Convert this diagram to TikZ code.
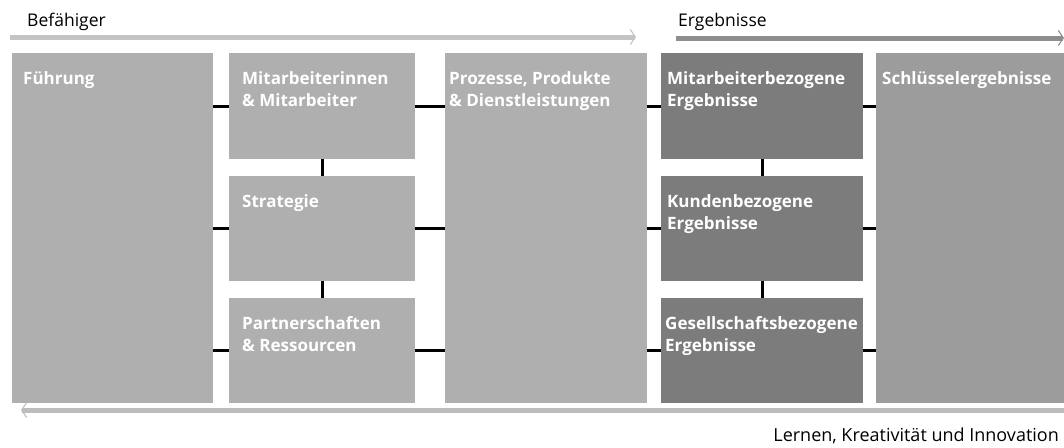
\documentclass[tikz,border=0pt]{standalone}
\usepackage{fontspec}
\setmainfont{Open Sans}
\usetikzlibrary{arrows.meta}
\definecolor{enabler}{HTML}{AFAFAF}
\definecolor{result}{HTML}{7C7C7C}
\definecolor{keyres}{HTML}{9C9C9C}
\definecolor{arrowL}{HTML}{C4C4C4}
\definecolor{arrowR}{HTML}{8E8E8E}
\definecolor{arrowB}{HTML}{BDBDBD}
\tikzset{
  box/.style={draw=none, rectangle, anchor=north west, inner sep=0pt, minimum width=#1},
  boxtxt/.style={anchor=north west, text=white, font=\bfseries\fontsize{17}{22}\selectfont, align=left, inner sep=0pt, xshift=#1, yshift=-18pt},
  conn/.style={draw=black, line width=2.6pt},
  band/.style={line width=5pt, -{Straight Barb[length=5pt, width=15pt, line width=1.1pt]}},
  captxt/.style={font=\fontsize{17.5}{20}\selectfont, inner sep=0pt}
}
\begin{document}
\begin{tikzpicture}[x=1pt, y=-1pt]
\useasboundingbox (0,0) rectangle (1064,447);
% captions
\node[captxt, anchor=base west] (bef) at (27,26) {Befähiger};
\node[captxt, anchor=base west] (erg) at (678,26) {Ergebnisse};
\node[captxt, anchor=base east, font=\fontsize{18}{20}\selectfont] (lki) at (1059,441) {Lernen, Kreativität und Innovation};
% arrow end points
\coordinate (a1s) at (10,37);
\coordinate (a1e) at (636,37);
\coordinate (a2s) at (676,38);
\coordinate (a2e) at (1064,38);
\coordinate (a3s) at (1064,410);
\coordinate (a3e) at (21,410);
\draw[band, arrowL] (a1s) -- (a1e);
\draw[band, arrowR] (a2s) -- (a2e);
\draw[band, arrowB] (a3s) -- (a3e);
% boxes
\node[box=201pt, minimum height=350pt, fill=enabler, label={[boxtxt=11pt]north west:Führung}] (f) at (12,53) {};
\node[box=186pt, minimum height=106pt, fill=enabler, label={[boxtxt=13pt]north west:Mitarbeiterinnen\\\& Mitarbeiter}] (m1) at (229,53) {};
\node[box=186pt, minimum height=105pt, fill=enabler, label={[boxtxt=13pt]north west:Strategie}] (m2) at (229,176) {};
\node[box=186pt, minimum height=105pt, fill=enabler, label={[boxtxt=13pt]north west:Partnerschaften\\\& Ressourcen}] (m3) at (229,298) {};
\node[box=202pt, minimum height=350pt, fill=enabler, label={[boxtxt=4pt]north west:Prozesse, Produkte\\\& Dienstleistungen}] (p) at (445,53) {};
\node[box=202pt, minimum height=106pt, fill=result, label={[boxtxt=6pt]north west:Mitarbeiterbezogene\\Ergebnisse}] (r1) at (661,53) {};
\node[box=202pt, minimum height=105pt, fill=result, label={[boxtxt=6pt]north west:Kundenbezogene\\Ergebnisse}] (r2) at (661,176) {};
\node[box=202pt, minimum height=105pt, fill=result, label={[boxtxt=4pt]north west:Gesellschaftsbezogene\\Ergebnisse}] (r3) at (661,298) {};
\node[box=188pt, minimum height=350pt, fill=keyres, label={[boxtxt=6pt]north west:Schlüsselergebnisse}] (s) at (876,53) {};
% horizontal connectors
\foreach \n in {m1,m2,m3}{
  \draw[conn] (\n.west) -- (\n.west -| f.east);
  \draw[conn] (\n.east) -- (\n.east -| p.west);
}
\foreach \n in {r1,r2,r3}{
  \draw[conn] (\n.west) -- (\n.west -| p.east);
  \draw[conn] (\n.east) -- (\n.east -| s.west);
}
% vertical connectors
\draw[conn] (m1.south) -- (m2.north);
\draw[conn] (m2.south) -- (m3.north);
\draw[conn] (r1.south) -- (r2.north);
\draw[conn] (r2.south) -- (r3.north);
\end{tikzpicture}
\end{document}
